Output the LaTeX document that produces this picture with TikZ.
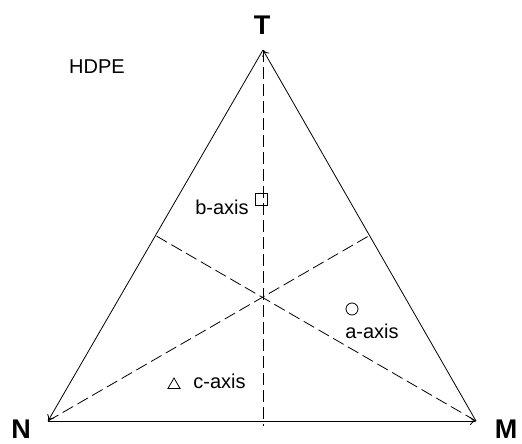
\documentclass[tikz,border=0pt]{standalone}
\usepackage{fontspec}
\setmainfont{Liberation Sans}
\usetikzlibrary{arrows.meta,calc,shapes.geometric}
\begin{document}
\begin{tikzpicture}[
  x=1pt, y=-1pt,
  every node/.style={font=\fontsize{20}{24}\selectfont, inner sep=0pt},
  vertex/.style={font=\fontsize{27}{30}\selectfont\bfseries},
  side/.style={draw, line width=0.8pt, -{To[length=6pt,width=8pt]}},
  axisline/.style={draw, line width=0.8pt, dash pattern=on 12pt off 5pt},
  marker/.style={draw, line width=0.8pt, inner sep=0pt}
]
\useasboundingbox (0,0) rectangle (522,444);
% corners of the triangle
\coordinate (T) at (263,50);
\coordinate (N) at (48,421);
\coordinate (M) at (476,421);
\coordinate (TN) at ($(T)!0.5!(N)$);
\coordinate (TM) at ($(T)!0.5!(M)$);
\coordinate (NM) at (263,426);
\node[vertex] (Tlab) at (262,25) {T};
\node[vertex] (Nlab) at (21,429.5) {N};
\node[vertex] (Mlab) at (506,429.5) {M};
\node (hdpe) at (97,67) {HDPE};
% sides
\draw[side] (M) -- (T);
\draw[side] (T) -- (N);
\draw[side] (N) -- (M);
% medians
\draw[axisline] (T) -- (NM);
\draw[axisline] (N) -- (TM);
\draw[axisline] (M) -- (TN);
% axis points
\node[marker, rectangle, minimum size=12pt] (b) at (261,199.5) {};
\node (blab) at (222,207) {b-axis};
\node[marker, circle, minimum size=12pt] (a) at (352,309) {};
\node (alab) at (372,331) {a-axis};
\node[marker, regular polygon, regular polygon sides=3, minimum size=14pt] (c) at (174,385) {};
\node (clab) at (219.5,381) {c-axis};
\end{tikzpicture}
\end{document}
